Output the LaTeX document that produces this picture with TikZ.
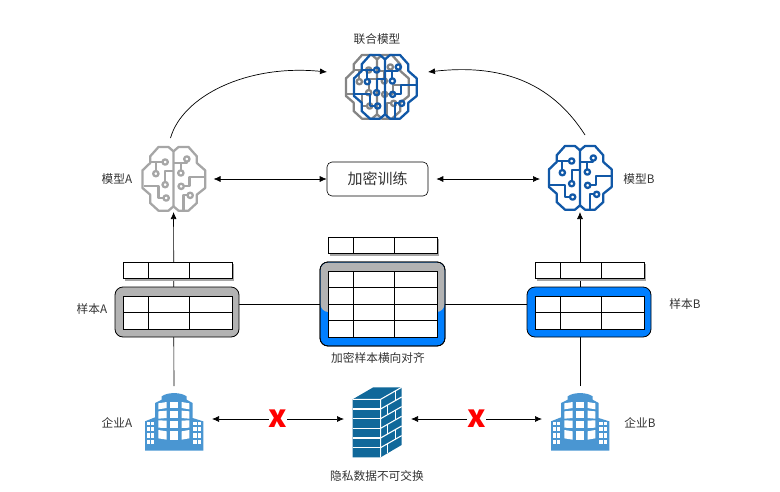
\documentclass[tikz,border=0pt]{standalone}
\usepackage{fontspec}
\usepackage{xcolor}
\setmainfont{Noto Sans CJK SC}
\usetikzlibrary{backgrounds,arrows.meta}
\definecolor{brainGrey}{HTML}{A6A6A6}
\definecolor{brainDark}{HTML}{858585}
\definecolor{brainBlue}{HTML}{1158A7}
\definecolor{sampleGrey}{HTML}{B3B3B3}
\definecolor{sampleBlue}{HTML}{007FFF}
\definecolor{towerBlue}{HTML}{4A96D2}
\definecolor{wallBlue}{HTML}{10689A}
\definecolor{labelText}{HTML}{333333}
\tikzset{
  lbl/.style={text=labelText,inner sep=0pt,font=\fontsize{11.7}{13}\selectfont},
  slot/.style={inner sep=0pt,outer sep=0pt},
  link/.style={draw=black,line width=0.7pt},
  arrow/.style={link,-{Latex[length=7pt,width=6pt]}},
  biarrow/.style={link,{Latex[length=7pt,width=6pt]}-{Latex[length=7pt,width=6pt]}},
  holder/.style={draw=black,line width=0.8pt,rounded corners=8pt,inner sep=0pt},
  cross/.style={fill=white,inner sep=0pt,text=red,font=\fontsize{31}{24}\selectfont\bfseries},
  pics/brain/.style={code={
    \begin{scope}[scale=0.3333,draw=#1,line width=2.3pt,line join=round]
      \draw (0,-83) -- (-15,-96) -- (-45,-96) -- (-70,-68) -- (-70,-48) -- (-93,-26) -- (-93,27) -- (-70,47) -- (-70,72) -- (-45,95) -- (-15,95) -- (0,82) -- cycle;
      \draw (0,-83) -- (15,-96) -- (45,-96) -- (70,-68) -- (70,-48) -- (95,-26) -- (95,27) -- (70,47) -- (70,72) -- (45,95) -- (15,95) -- (0,82);
      \draw (-68,-51) -- (-33,-51) (-53,-51) -- (-53,-24);
      \draw (-25,9) -- (-25,-23) -- (0,-23);
      \draw (-90,22) -- (-45,22) -- (-45,57) -- (-30,57);
      \draw (40,-52) -- (40,-48) -- (0,-48) (22,-48) -- (22,-26);
      \draw (31,22) -- (48,22) -- (48,-5) -- (95,-5);
      \draw (42,49) -- (30,49) -- (30,92);
      \foreach \cx/\cy in {-25/-51,-53/-16,-25/17,-22/57,40/-60,22/-18,23/22,50/49}
        \draw (\cx,\cy) circle (8);
    \end{scope}
  }},
  pics/tower/.style={code={
    \begin{scope}[scale=0.3333]
      \fill[towerBlue] (-87,86) -- (88,86) -- (88,-2) -- (56,-12) -- (56,-57) -- (38,-67) -- (38,-77) .. controls (20,-90) and (-20,-90) .. (-37,-77) -- (-37,-67) -- (-57,-57) -- (-57,-14) -- (-87,-2) -- cycle;
      \foreach \ya/\yb/\d in {-60/-42/4,-34/-12/2,-4/18/-1,28/53/-4} {
        \fill[white] (-47,\ya+\d) -- (-22,\ya) -- (-22,\yb) -- (-47,\yb+\d) -- cycle;
        \fill[white] (-12,\ya) rectangle (13,\yb);
        \fill[white] (46,\ya+\d) -- (23,\ya) -- (23,\yb) -- (46,\yb+\d) -- cycle;
      }
      \foreach \ya/\yb in {0/10,15/28,33/48,53/66}
        \foreach \xa in {-82,-69,58,71}
          \fill[white] (\xa,\ya) rectangle (\xa+10,\yb);
    \end{scope}
  }},
  pics/wall/.style={code={
    \begin{scope}[scale=0.3333]
      \fill[wallBlue] (-80,-69) -- (-18,-105) -- (67,-105) -- (67,68) -- (4,105) -- (-80,105) -- cycle;
      \draw[white,line width=1.1pt] (-80,-69) -- (4,-69) -- (67,-105) (4,-69) -- (4,105);
      \foreach \row in {1,...,5} {
        \draw[white,line width=1.1pt] (-80,-69+29*\row) -- (4,-69+29*\row);
        \draw[white,line width=1.1pt] (4,-69+29*\row) -- (67,-105+29*\row);
      }
      \foreach \row/\xb in {0/48,1/25,2/48,3/25,4/48,5/25}
        \draw[white,line width=1.1pt] (\xb,{-69+29*\row-(\xb-4)*0.571}) -- ++(0,29);
    \end{scope}
  }},
  pics/grid/.style={code={
    % #1 = number of rows, each row 16.5 high
    \draw[black,line width=0.8pt,fill=white] (0,0) rectangle (109,#1*16.5);
    \draw[black,line width=0.8pt] (25,0) -- (25,#1*16.5) (66,0) -- (66,#1*16.5);
    \foreach \row in {1,...,#1}
      \draw[black,line width=0.8pt] (0,\row*16.5) -- (109,\row*16.5);
  }},
  pics/topgrid/.style={code={
    \fill[black!35] (1.5,1.5) rectangle (110.5,18.5);
    \pic {grid=1};
  }}
}
\begin{document}
\begin{tikzpicture}[x=1pt,y=-1pt]
\useasboundingbox (0,0) rectangle (780,491);
% brains
\node[slot,minimum width=80pt,minimum height=78pt] (brainA) at (173.5,179) {};
\node[slot,minimum width=80pt,minimum height=78pt] (brainB) at (580,179) {};
\node[slot,minimum width=101pt,minimum height=78pt] (brainC) at (377.5,87) {};
\pic at (173.5,179) {brain=brainGrey};
\pic at (580,178) {brain=brainBlue};
\pic at (377,87) {brain=brainDark};
\pic at (385,87) {brain=brainBlue};
\node[draw=black,line width=0.6pt,rounded corners=5pt,minimum width=101pt,minimum height=34pt,inner sep=0pt,font=\fontsize{15}{18}\selectfont,text=labelText] (train) at (377.5,179) {加密训练};
% samples
\node[holder,fill=sampleGrey,minimum width=124pt,minimum height=50pt] (sampleA) at (177,312) {};
\node[holder,fill=sampleBlue,minimum width=124pt,minimum height=50pt] (sampleB) at (589,312) {};
\node[holder,fill=sampleBlue,minimum width=125pt,minimum height=84pt] (sampleC) at (382.5,304) {};
\fill[sampleGrey,rounded corners=8pt] (320.5,262.5) rectangle (444.5,312);
\draw[black,line width=0.8pt,rounded corners=8pt] (320,262) rectangle (445,346);
\pic at (123,296) {grid=2};
\pic at (535,296) {grid=2};
\pic at (328,271) {grid=4};
\pic at (123,262) {topgrid};
\pic at (535,262) {topgrid};
\pic at (328,237) {topgrid};
% buildings and wall
\node[slot,minimum width=76pt,minimum height=66pt] (bldA) at (174,419) {};
\node[slot,minimum width=76pt,minimum height=66pt] (bldB) at (580,419) {};
\node[slot,minimum width=67pt,minimum height=70pt] (wall) at (377.5,419) {};
\pic at (174,422) {tower};
\pic at (580,422) {tower};
\pic at (379.3,422.3) {wall};
% labels
\node[lbl] (capC) at (377,39) {联合模型};
\node[lbl] (capA) at (117,179) {模型A};
\node[lbl] (capB) at (639,179) {模型B};
\node[lbl] (capSA) at (92,309) {样本A};
\node[lbl] (capSB) at (685,304) {样本B};
\node[lbl] (capSC) at (378,358) {加密样本横向对齐};
\node[lbl] (capEA) at (117,423) {企业A};
\node[lbl] (capEB) at (640,423) {企业B};
\node[lbl] (capW) at (377,476) {隐私数据不可交换};
% connectors
\begin{scope}[on background layer]
\draw[arrow,shorten >=-6pt] (bldA) -- (brainA);
\draw[arrow,shorten >=-6pt] (bldB) -- (brainB);
\draw[link] ([yshift=8pt]sampleA.east) -- (sampleC.west);
\draw[link] (sampleC.east) -- ([yshift=8pt]sampleB.west);
\end{scope}
\draw[biarrow] (brainA) -- (train);
\draw[biarrow,shorten <=8pt,shorten >=0pt] (train) -- (brainB);
\draw[arrow] ([xshift=-3pt,yshift=2pt]brainA.north) .. controls +(12,-42) and +(-80,-8) .. ([yshift=15pt]brainC.west);
\draw[arrow] ([xshift=5pt,yshift=5pt]brainB.north) .. controls +(-35,-55) and +(70,-8) .. ([yshift=15pt]brainC.east);
\draw[biarrow] (bldA) -- node[cross] (crossL) {x} (wall);
\draw[biarrow] (wall) -- node[cross] (crossR) {x} (bldB);
\end{tikzpicture}
\end{document}
